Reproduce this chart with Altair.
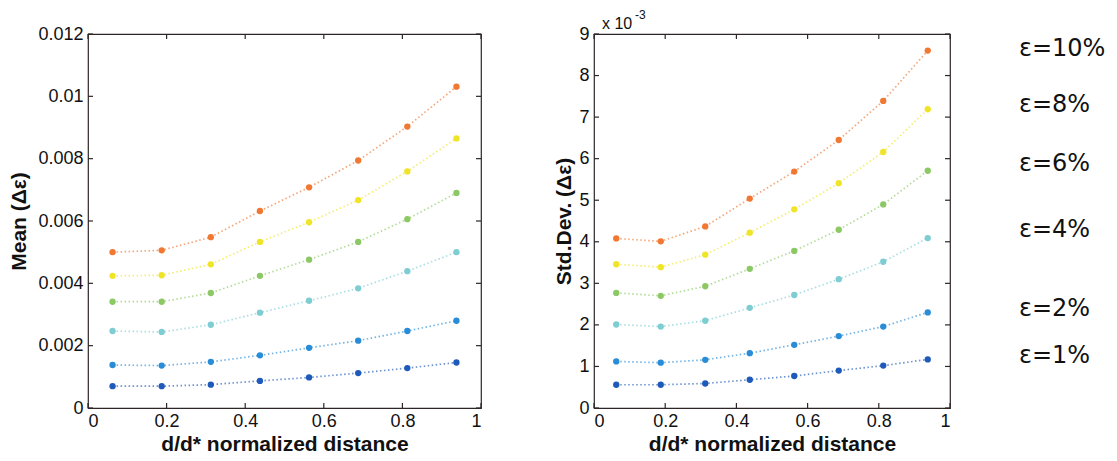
import altair as alt
import pandas as pd

# ---------------- data ----------------
x_pos = [0.0625, 0.1875, 0.3125, 0.4375, 0.5625, 0.6875, 0.8125, 0.9375]
series = ["ε=1%", "ε=2%", "ε=4%", "ε=6%", "ε=8%", "ε=10%"]
colors = ["#1e5ab9", "#288cd7", "#7dcdd2", "#8cc864", "#f0e428", "#f07832"]

mean_1 = [0.00070, 0.00070, 0.00075, 0.00087, 0.00098, 0.00112, 0.00128, 0.00146]
mean_2 = [0.00138, 0.00136, 0.00148, 0.00169, 0.00193, 0.00216, 0.00247, 0.00280]
mean_4 = [0.00247, 0.00244, 0.00267, 0.00306, 0.00344, 0.00384, 0.00439, 0.00500]
mean_6 = [0.00341, 0.00341, 0.00369, 0.00424, 0.00476, 0.00533, 0.00606, 0.00690]
mean_8 = [0.00424, 0.00426, 0.00461, 0.00533, 0.00596, 0.00667, 0.00759, 0.00865]
mean_10 = [0.00500, 0.00506, 0.00548, 0.00632, 0.00708, 0.00794, 0.00903, 0.01031]

# std. dev. in units of 10^-3
std_1 = [0.56, 0.56, 0.59, 0.68, 0.77, 0.90, 1.02, 1.17]
std_2 = [1.12, 1.09, 1.16, 1.32, 1.52, 1.73, 1.96, 2.30]
std_4 = [2.01, 1.96, 2.10, 2.41, 2.72, 3.10, 3.52, 4.09]
std_6 = [2.77, 2.70, 2.93, 3.35, 3.78, 4.29, 4.90, 5.71]
std_8 = [3.46, 3.39, 3.69, 4.22, 4.78, 5.41, 6.16, 7.19]
std_10 = [4.08, 4.01, 4.37, 5.04, 5.69, 6.45, 7.39, 8.60]

# legend label positions (right panel y units)
label_y = [1.25, 2.38, 4.28, 5.87, 7.29, 8.64]

x_ticks = [0, 0.2, 0.4, 0.6, 0.8, 1]
mean_ticks = [0, 0.002, 0.004, 0.006, 0.008, 0.01, 0.012]
std_ticks = [0, 1, 2, 3, 4, 5, 6, 7, 8, 9]
exponent_text = ["x 10"]
exponent_power = ["-3"]

x_title = "d/d* normalized distance"
mean_title = "Mean (Δε)"
std_title = "Std.Dev. (Δε)"


def long_table(cols):
    rows = []
    for name, vals in zip(series, cols):
        for xv, yv in zip(x_pos, vals):
            rows.append({"series": name, "x": xv, "y": yv})
    return pd.DataFrame(rows)


df_mean = long_table([mean_1, mean_2, mean_4, mean_6, mean_8, mean_10])
df_std = long_table([std_1, std_2, std_4, std_6, std_8, std_10])

FRAME = "#2e2626"
TICK_LEN = 5


def panel(df, W, H, ydomain, yticks, ytitle, ytitle_pad, extra=None):
    xs = alt.Scale(domain=[0, 1], nice=False, zero=False)
    ys = alt.Scale(domain=ydomain, nice=False, zero=False)
    color = alt.Color("series:N", scale=alt.Scale(domain=series, range=colors), legend=None)
    base = alt.Chart(df)

    lines = base.mark_line(strokeDash=[1.5, 2.5], strokeWidth=1.7, opacity=0.65).encode(
        x=alt.X("x:Q", scale=xs,
                axis=alt.Axis(orient="bottom", values=x_ticks, format="~g", title=x_title,
                              ticks=False, tickSize=0, domain=False, grid=False,
                              labelPadding=4, titlePadding=3)),
        y=alt.Y("y:Q", scale=ys,
                axis=alt.Axis(orient="left", values=yticks, format="~g", title=ytitle,
                              ticks=False, tickSize=0, domain=False, grid=False,
                              labelPadding=5, titlePadding=ytitle_pad)),
        color=color,
    )
    pts = base.mark_circle(size=40, opacity=1).encode(
        x=alt.X("x:Q", scale=xs, axis=None),
        y=alt.Y("y:Q", scale=ys, axis=None),
        color=color,
    )
    xt = alt.Chart(pd.DataFrame({"v": x_ticks}))
    yt = alt.Chart(pd.DataFrame({"v": yticks}))
    rule = dict(color=FRAME, strokeWidth=1.2)
    tick_bottom = xt.mark_rule(**rule).encode(
        x=alt.X("v:Q", scale=xs, axis=None), y=alt.value(H), y2=alt.value(H - TICK_LEN))
    tick_top = xt.mark_rule(**rule).encode(
        x=alt.X("v:Q", scale=xs, axis=None), y=alt.value(0), y2=alt.value(TICK_LEN))
    tick_left = yt.mark_rule(**rule).encode(
        y=alt.Y("v:Q", scale=ys, axis=None), x=alt.value(0), x2=alt.value(TICK_LEN))
    tick_right = yt.mark_rule(**rule).encode(
        y=alt.Y("v:Q", scale=ys, axis=None), x=alt.value(W), x2=alt.value(W - TICK_LEN))

    layers = [lines, pts, tick_bottom, tick_top, tick_left, tick_right]
    if extra is not None:
        layers += extra(ys)
    return alt.layer(*layers).resolve_axis(x="independent", y="independent").properties(
        width=W, height=H)


W_L, W_R, H = 393, 356, 374


def right_extras(ys):
    lab_df = pd.DataFrame({"series": series, "ly": label_y})
    labels = alt.Chart(lab_df).mark_text(
        align="left", baseline="middle", font="DejaVu Sans", fontSize=24, color="#111"
    ).encode(
        x=alt.value(W_R + 69),
        y=alt.Y("ly:Q", scale=ys, axis=None),
        text="series:N",
    )
    exp1 = alt.Chart(pd.DataFrame({"t": exponent_text})).mark_text(
        align="left", baseline="alphabetic", font="Liberation Sans", fontSize=16, color="#111"
    ).encode(x=alt.value(8), y=alt.value(-5), text="t:N")
    exp2 = alt.Chart(pd.DataFrame({"t": exponent_power})).mark_text(
        align="left", baseline="alphabetic", font="Liberation Sans", fontSize=12, color="#111"
    ).encode(x=alt.value(41), y=alt.value(-15), text="t:N")
    return [labels, exp1, exp2]


left = panel(df_mean, W_L, H, [0, 0.012], mean_ticks, mean_title, 8)
right = panel(df_std, W_R, H, [0, 9], std_ticks, std_title, 4, extra=right_extras)

chart = alt.hconcat(left, right, spacing=70).properties(
    padding={"left": 0, "top": 0, "right": 0, "bottom": 0}
).configure_view(
    stroke=FRAME, strokeWidth=1.2
).configure_axis(
    labelFont="Liberation Sans", labelFontSize=18, labelColor="#111",
    titleFont="Liberation Sans", titleFontSize=21, titleFontWeight="bold", titleColor="#111",
)

chart.save("out.html", embed_options={"renderer": "svg", "actions": False})
